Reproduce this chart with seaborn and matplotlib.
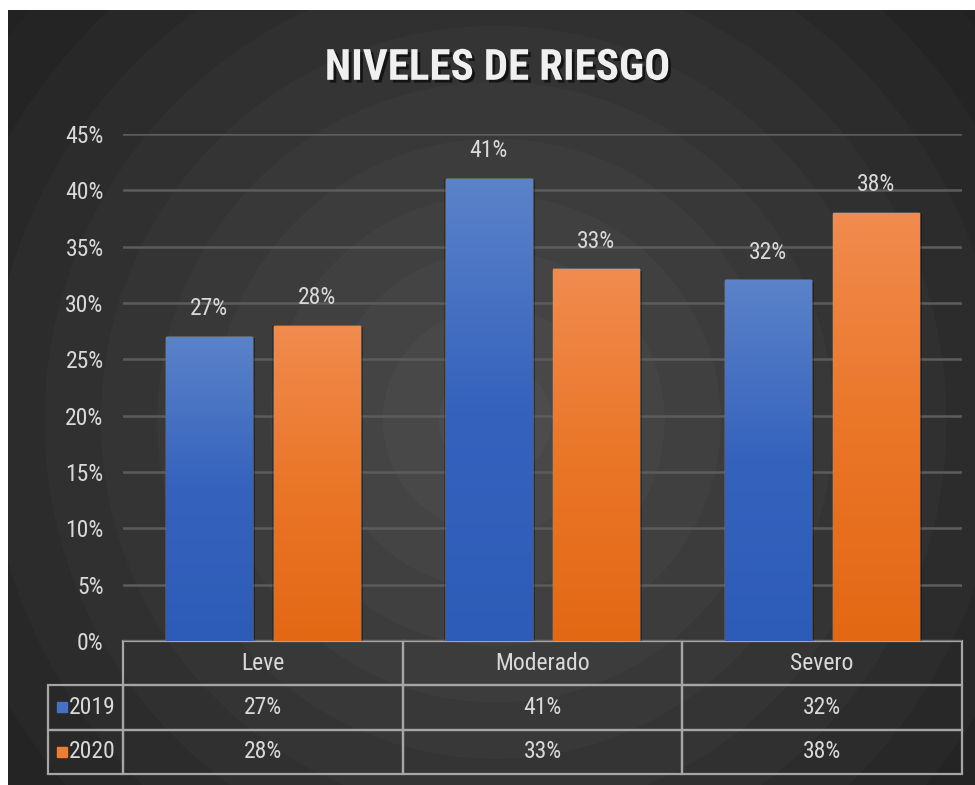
import numpy as np
import pandas as pd
import seaborn as sns
import matplotlib.pyplot as plt
import matplotlib.patheffects as pe
from matplotlib.colors import LinearSegmentedColormap

# --- DATI ---
niveles = ['Leve', 'Moderado', 'Severo']
anios = ['2019', '2020']
valori_2019 = [0.27, 0.41, 0.32]
valori_2020 = [0.28, 0.33, 0.38]

df = pd.DataFrame({
    'Nivel': niveles * 2,
    'Anio': [anios[0]] * 3 + [anios[1]] * 3,
    'Valor': valori_2019 + valori_2020,
})

# --- STILE ---
sns.set_theme(style='dark')
plt.rcParams['font.family'] = ['Roboto Condensed', 'Lato', 'DejaVu Sans']
col_testo = '#d9d9d9'
col_blu = '#4472c4'
col_arancio = '#ed7d31'
gradienti = [
    ['#2d5cb8', '#3562bd', '#5b83c9'],
    ['#e36814', '#ea7628', '#f18b4f'],
]
fs = 17

fig = plt.figure(figsize=(9.75, 7.85), dpi=100, facecolor='white')

# sfondo radiale a bande
bg = fig.add_axes([8 / 975, 0, 967 / 975, 775 / 785], zorder=-10)
yy, xx = np.mgrid[0:775, 0:967]
r = np.hypot(xx - 487, yy - 410) / 620
r = np.clip(r, 0, 1)
livelli = np.floor(r * 11) / 11
grigio = 0x4c - (0x4c - 0x22) * livelli
bg.imshow(grigio, cmap='gray', vmin=0, vmax=255, aspect='auto', interpolation='bilinear')
bg.set_axis_off()

ax = fig.add_axes([123 / 975, 1 - 641 / 785, 839 / 975, 507 / 785])
ax.set_facecolor('none')

sns.barplot(data=df, x='Nivel', y='Valor', hue='Anio', order=niveles,
            palette=[col_blu, col_arancio], saturation=1, width=0.77, gap=0.2,
            legend=False, ax=ax, zorder=3)

# gradiente verticale sulle barre
for cont, colori in zip(ax.containers, gradienti):
    cmap = LinearSegmentedColormap.from_list('g', colori)
    for patch in cont:
        x0, y0 = patch.get_x(), patch.get_y()
        w, h = patch.get_width(), patch.get_height()
        grad = np.linspace(0, 1, 256).reshape(-1, 1)
        im = ax.imshow(grad, cmap=cmap, origin='lower', aspect='auto',
                       extent=(x0, x0 + w, y0, y0 + h), zorder=4)
        im.set_clip_path(patch)
        patch.set_path_effects([pe.SimplePatchShadow(offset=(2, -1), shadow_rgbFace='black', alpha=0.35),
                                pe.SimplePatchShadow(offset=(-1, 0), shadow_rgbFace='black', alpha=0.25),
                                pe.Normal()])

ax.set_ylim(0, 0.45)
ax.set_xlim(-0.5, 2.5)
ax.set_yticks(np.arange(0, 0.46, 0.05))
ax.set_yticklabels([f'{int(round(t * 100))}%' for t in np.arange(0, 0.46, 0.05)])
ax.tick_params(axis='y', length=0, pad=14, labelsize=fs, labelcolor=col_testo)
ax.set_xticks([])
ax.set_xlabel('')
ax.set_ylabel('')
ax.yaxis.grid(True, color='#5c5c5c', lw=1.8, zorder=0)
for s in ax.spines.values():
    s.set_visible(False)

for cont in ax.containers:
    ax.bar_label(cont, labels=[f'{v:.0%}' for v in cont.datavalues],
                 padding=12, color=col_testo, fontsize=fs, zorder=6)

# tabella dati
tab = ax.table(cellText=[[f'{v:.0%}' for v in valori_2019], [f'{v:.0%}' for v in valori_2020]],
               colLabels=niveles, cellLoc='center', bbox=[0, -0.2623, 1, 0.2623])
h_cella = tab[1, 0].get_height()
for i, a in enumerate(anios):
    tab.add_cell(i + 1, -1, width=75 / 839, height=h_cella, text=a, loc='right')
tab.auto_set_font_size(False)
for (rr, cc), cell in tab.get_celld().items():
    cell.set_facecolor('none')
    cell.set_edgecolor('#a6a6a6')
    cell.set_linewidth(1.6)
    cell.get_text().set_color(col_testo)
    cell.get_text().set_fontsize(fs)

# quadratini legenda
altezza_riga = 0.2623 / 3
for i, c in enumerate([col_blu, col_arancio]):
    ax.plot([-0.0727], [-altezza_riga * (1.5 + i)], marker='s', ms=7.5, color=c,
            transform=ax.transAxes, clip_on=False, zorder=7)

fig.text(0.51, 0.913, 'NIVELES DE RIESGO', ha='center', va='center', fontsize=31,
         fontweight='bold', color='#f0f0f0',
         path_effects=[pe.SimplePatchShadow(offset=(2, -2), shadow_rgbFace='black', alpha=0.6), pe.Normal()])

plt.savefig('out.png', dpi=100, facecolor=fig.get_facecolor())
